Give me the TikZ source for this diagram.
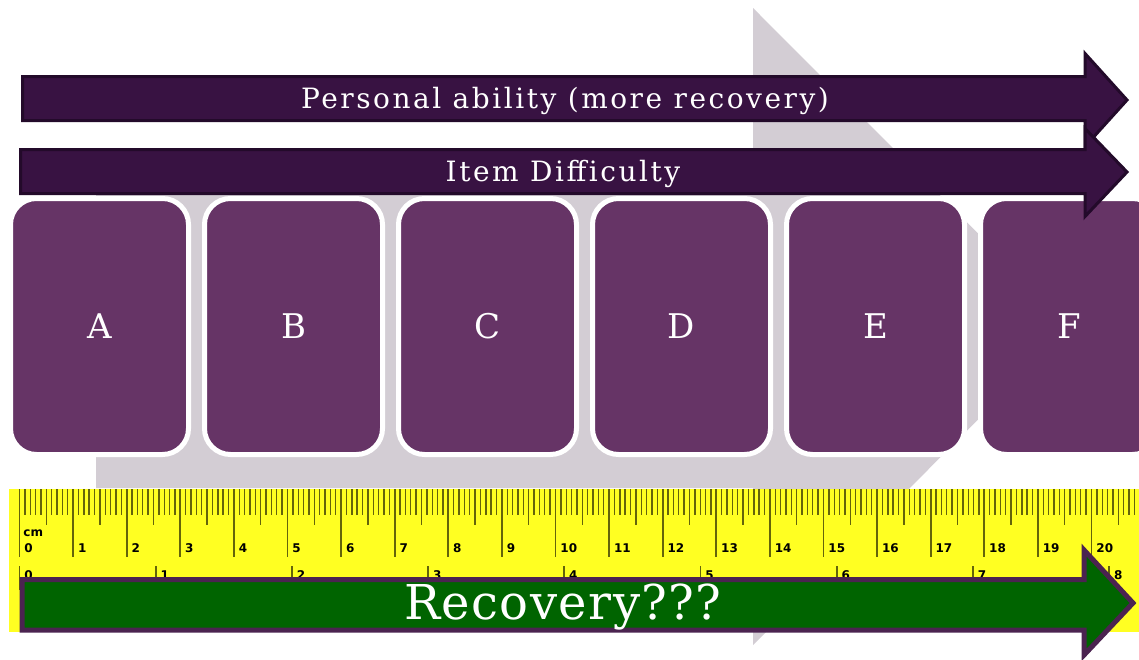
\documentclass[tikz,border=0pt]{standalone}
\usepackage{fontspec}
\setmainfont{DejaVu Serif}
\setsansfont{DejaVu Sans}
\newfontfamily\widefont[LetterSpace=9]{DejaVu Serif}
\newfontfamily\recfont[LetterSpace=3]{DejaVu Serif}
\definecolor{chevgrey}{RGB}{211,205,212}
\definecolor{cardfill}{RGB}{102,52,102}
\definecolor{darkfill}{RGB}{56,18,66}
\definecolor{darkline}{RGB}{35,10,42}
\definecolor{rulerfill}{RGB}{255,255,34}
\definecolor{tickcol}{RGB}{100,100,10}
\definecolor{greenfill}{RGB}{0,100,0}
\definecolor{greenline}{RGB}{75,35,80}
\tikzset{
  card/.style={rectangle,rounded corners=13pt,fill=cardfill,draw=white,line width=2.5pt,
    minimum width=89pt,minimum height=128pt,text=white,font=\fontsize{17}{19}\selectfont},
  darkarrow/.style={fill=darkfill,draw=darkline,line width=1.5pt},
  bartext/.style={text=white,inner sep=0pt,font=\widefont\fontsize{14}{16}\selectfont},
  mmtick/.style={draw=tickcol,line width=0.7pt},
  cmtick/.style={draw=tickcol,line width=0.9pt},
  cmlabel/.style={anchor=west,inner sep=0pt,font=\sffamily\bfseries\fontsize{6}{6}\selectfont},
  greenarrow/.style={fill=greenfill,draw=greenline,line width=2.5pt}
}
\begin{document}
\begin{tikzpicture}[x=0.5pt,y=-0.5pt]
\clip (0,0) rectangle (1139,659);
\fill[white] (0,0) rectangle (1139,659);
% big grey chevron behind
\fill[chevgrey] (96,165) -- (753,165) -- (753,8) -- (1071,326.5) -- (753,645) -- (753,488) -- (96,488) -- cycle;
% cards
\foreach \l [count=\i from 0] in {A,B,C,D,E,F}
  \node[card] (card\l) at ({99.5+194*\i},326.5) {\l};
% top arrows
\draw[darkarrow] (22.5,76.5) -- (1085,76.5) -- (1085,53.5) -- (1127,100) -- (1085,146.5) -- (1085,120.5) -- (22.5,120.5) -- cycle;
\node[bartext] (ability) at (565,101) {Personal ability (more recovery)};
\draw[darkarrow] (20.5,149.5) -- (1085,149.5) -- (1085,128.5) -- (1127,172) -- (1085,216.5) -- (1085,193.5) -- (20.5,193.5) -- cycle;
\node[bartext] (difficulty) at (563,174) {Item Difficulty};
% ruler
\fill[rulerfill] (9,489) rectangle (1139,632);
\foreach \m in {0,...,208}
  \draw[mmtick] ({19.5+5.36*\m},489) -- ++(0,26);
\foreach \m in {0,...,20}
  \draw[mmtick] ({19.5+5.36*(10*\m+5)},489) -- ++(0,36);
\foreach \c in {0,...,20}{
  \draw[cmtick] ({19.5+53.6*\c},489) -- ++(0,68);
  \node[cmlabel] (cm\c) at ({24+53.6*\c},548) {\c};
}
\node[cmlabel] (unit) at (23,533) {cm};
\foreach \k in {0,...,8}{
  \draw[cmtick] ({19.5+136.2*\k},566) -- ++(0,24);
  \node[cmlabel] (in\k) at ({24+136.2*\k},575) {\k};
}
% green arrow
\draw[greenarrow] (22,579.5) -- (1084,579.5) -- (1084,550) -- (1133,603) -- (1084,655) -- (1084,630) -- (22,630) -- cycle;
\node[text=white,inner sep=0pt,font=\recfont\fontsize{24}{26}\selectfont] (recovery) at (563,607) {Recovery???};
\end{tikzpicture}
\end{document}
